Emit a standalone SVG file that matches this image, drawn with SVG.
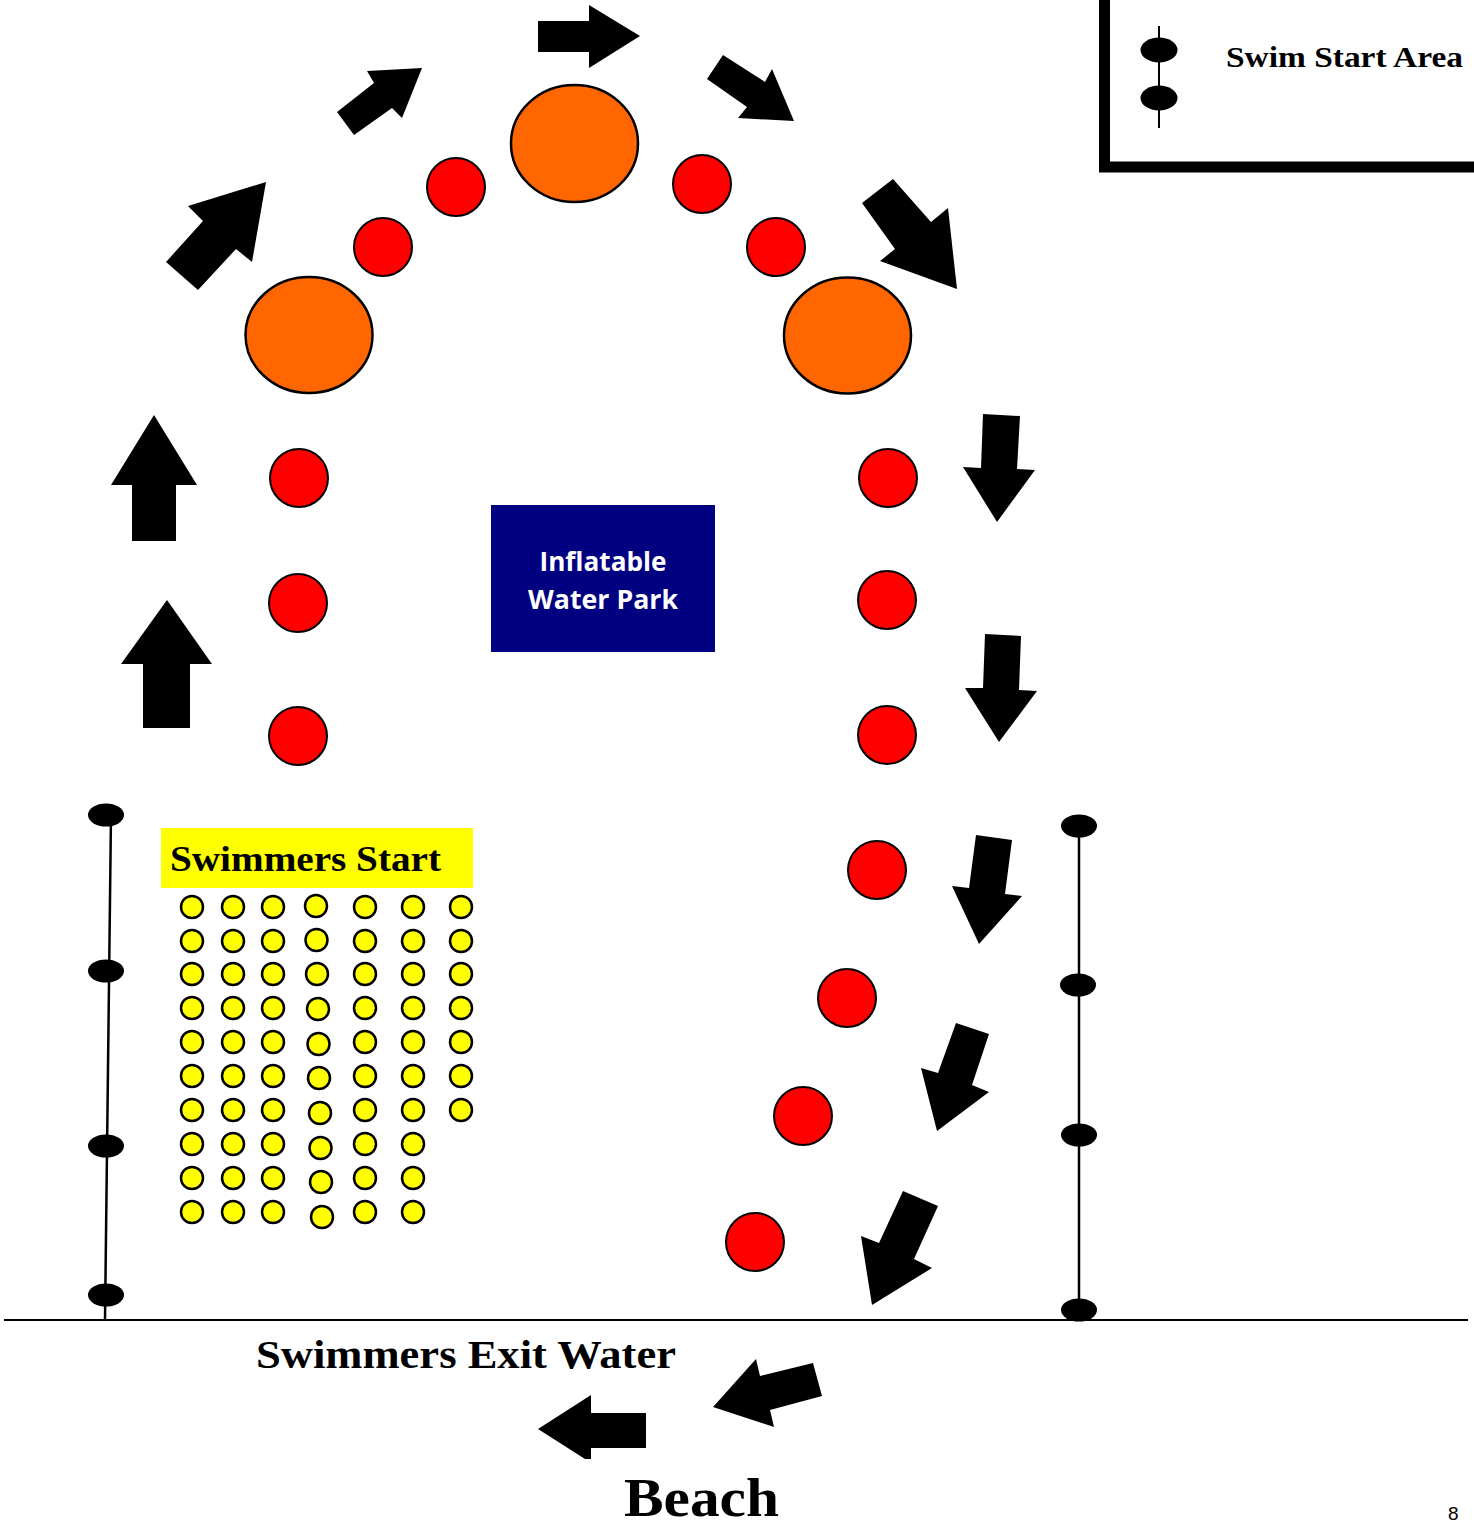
<svg xmlns="http://www.w3.org/2000/svg" width="1474" height="1527" viewBox="0 0 1474 1527">
<style>
.arrow{fill:#000}
.buoy{fill:#ff0000;stroke:#000;stroke-width:2}
.big{fill:#ff6600;stroke:#000;stroke-width:2.5}
.sw{fill:#ffff00;stroke:#000;stroke-width:2.5}
.rope{stroke:#000;stroke-width:2.5;fill:none}
.float{fill:#000}
.serif{font-family:"Liberation Serif","DejaVu Serif",serif;font-weight:bold;fill:#000}
</style>
<rect width="1474" height="1527" fill="#fff"/>

<g id="legend">
<path d="M1104.5,0 V167 H1474" fill="none" stroke="#000" stroke-width="11"/>
<line x1="1159" y1="26" x2="1159" y2="128" stroke="#000" stroke-width="2"/>
<ellipse cx="1159" cy="50" rx="18.5" ry="12.5" class="float"/>
<ellipse cx="1159" cy="98" rx="18.5" ry="12.5" class="float"/>
<text x="1226" y="67" class="serif" font-size="30" textLength="237" lengthAdjust="spacingAndGlyphs">Swim Start Area</text>
</g>

<g id="water-park">
<rect x="491" y="505" width="224" height="147" fill="#000080"/>
<text x="603" y="571" text-anchor="middle" font-family="'Open Sans','Liberation Sans',sans-serif" font-weight="bold" font-size="27" fill="#fff" textLength="127" lengthAdjust="spacingAndGlyphs">Inflatable</text>
<text x="603" y="609" text-anchor="middle" font-family="'Open Sans','Liberation Sans',sans-serif" font-weight="bold" font-size="27" fill="#fff" textLength="150" lengthAdjust="spacingAndGlyphs">Water Park</text>
</g>

<g id="turn-buoys">
<ellipse cx="574.5" cy="143.5" rx="63.5" ry="58.5" class="big"/>
<ellipse cx="309" cy="335" rx="63.5" ry="58" class="big"/>
<ellipse cx="847.5" cy="335.5" rx="63.5" ry="58" class="big"/>
</g>

<g id="course-buoys">
<circle cx="456" cy="187" r="29" class="buoy"/>
<circle cx="383" cy="247" r="29" class="buoy"/>
<circle cx="702" cy="184" r="29" class="buoy"/>
<circle cx="776" cy="247" r="29" class="buoy"/>
<circle cx="299" cy="478" r="29" class="buoy"/>
<circle cx="298" cy="603" r="29" class="buoy"/>
<circle cx="298" cy="736" r="29" class="buoy"/>
<circle cx="888" cy="478" r="29" class="buoy"/>
<circle cx="887" cy="600" r="29" class="buoy"/>
<circle cx="887" cy="735" r="29" class="buoy"/>
<circle cx="877" cy="870" r="29" class="buoy"/>
<circle cx="847" cy="998" r="29" class="buoy"/>
<circle cx="803" cy="1116" r="29" class="buoy"/>
<circle cx="755" cy="1242" r="29" class="buoy"/>
</g>

<g id="connectors">
<polygon class="arrow" points="154,415 197,485 176,485 176,541 132,541 132,485 111,485"/>
<polygon class="arrow" points="167,600 212,664 190,664 190,728 143,728 143,664 121,664"/>
<polygon class="arrow" points="266,182 252,262 236,249 198,290 166,262 203,221 188,206"/>
<polygon class="arrow" points="422,68 402,118 392,108 354,135 337,112 374,83 367,71"/>
<polygon class="arrow" points="538,21 589,21 589,5 640,36 589,68 589,52 538,52"/>
<polygon class="arrow" points="723,55 765,82 772,69 794,121 738,118 747,107 707,79"/>
<polygon class="arrow" points="893,179 931,222 948,208 957,289 880,261 895,249 862,203"/>
<polygon class="arrow" points="983,414 1020,416 1017,469 1035,470 997,522 963,467 981,468"/>
<polygon class="arrow" points="985,634 1021,636 1019,690 1037,691 999,742 965,688 983,688"/>
<polygon class="arrow" points="976,835 1012,840 1005,894 1022,896 979,944 952,886 969,888"/>
<polygon class="arrow" points="956,1023 989,1034 972,1085 989,1092 937,1131 921,1068 938,1073"/>
<polygon class="arrow" points="903,1191 938,1206 914,1259 932,1268 872,1305 861,1236 879,1243"/>
<polygon class="arrow" points="713,1407 756,1359 760,1376 813,1363 822,1396 770,1410 774,1427"/>
<polygon class="arrow" points="538,1429 591,1395 591,1413 646,1413 646,1448 591,1448 591,1459 585,1459"/>
</g>

<g id="start-rope-left">
<line x1="111" y1="815" x2="105" y2="1320" class="rope"/>
<ellipse cx="106" cy="815" rx="18" ry="11.5" class="float"/>
<ellipse cx="106" cy="971" rx="18" ry="11.5" class="float"/>
<ellipse cx="106" cy="1146" rx="18" ry="11.5" class="float"/>
<ellipse cx="106" cy="1295" rx="18" ry="11.5" class="float"/>
</g>

<g id="start-rope-right">
<line x1="1079" y1="826" x2="1079" y2="1310" class="rope"/>
<ellipse cx="1079" cy="826" rx="18" ry="11.5" class="float"/>
<ellipse cx="1078" cy="985" rx="18" ry="11.5" class="float"/>
<ellipse cx="1079" cy="1135" rx="18" ry="11.5" class="float"/>
<ellipse cx="1079" cy="1310" rx="18" ry="11.5" class="float"/>
</g>

<g id="swimmers-start">
<rect x="161" y="828" width="312" height="60" fill="#ffff00"/>
<text x="170" y="871" class="serif" font-size="35" textLength="271" lengthAdjust="spacingAndGlyphs">Swimmers Start</text>
</g>

<g id="swimmers">
<g>
<circle cx="192" cy="907" r="11" class="sw"/><circle cx="192" cy="941" r="11" class="sw"/><circle cx="192" cy="974" r="11" class="sw"/><circle cx="192" cy="1008" r="11" class="sw"/><circle cx="192" cy="1042" r="11" class="sw"/><circle cx="192" cy="1076" r="11" class="sw"/><circle cx="192" cy="1110" r="11" class="sw"/><circle cx="192" cy="1144" r="11" class="sw"/><circle cx="192" cy="1178" r="11" class="sw"/><circle cx="192" cy="1212" r="11" class="sw"/>
</g>
<g>
<circle cx="233" cy="907" r="11" class="sw"/><circle cx="233" cy="941" r="11" class="sw"/><circle cx="233" cy="974" r="11" class="sw"/><circle cx="233" cy="1008" r="11" class="sw"/><circle cx="233" cy="1042" r="11" class="sw"/><circle cx="233" cy="1076" r="11" class="sw"/><circle cx="233" cy="1110" r="11" class="sw"/><circle cx="233" cy="1144" r="11" class="sw"/><circle cx="233" cy="1178" r="11" class="sw"/><circle cx="233" cy="1212" r="11" class="sw"/>
</g>
<g>
<circle cx="273" cy="907" r="11" class="sw"/><circle cx="273" cy="941" r="11" class="sw"/><circle cx="273" cy="974" r="11" class="sw"/><circle cx="273" cy="1008" r="11" class="sw"/><circle cx="273" cy="1042" r="11" class="sw"/><circle cx="273" cy="1076" r="11" class="sw"/><circle cx="273" cy="1110" r="11" class="sw"/><circle cx="273" cy="1144" r="11" class="sw"/><circle cx="273" cy="1178" r="11" class="sw"/><circle cx="273" cy="1212" r="11" class="sw"/>
</g>
<g>
<circle cx="316" cy="906" r="11" class="sw"/><circle cx="316.5" cy="940" r="11" class="sw"/><circle cx="317" cy="974" r="11" class="sw"/><circle cx="318" cy="1009" r="11" class="sw"/><circle cx="318.5" cy="1044" r="11" class="sw"/><circle cx="319" cy="1078" r="11" class="sw"/><circle cx="320" cy="1113" r="11" class="sw"/><circle cx="320.5" cy="1148" r="11" class="sw"/><circle cx="321" cy="1182" r="11" class="sw"/><circle cx="322" cy="1217" r="11" class="sw"/>
</g>
<g>
<circle cx="365" cy="907" r="11" class="sw"/><circle cx="365" cy="941" r="11" class="sw"/><circle cx="365" cy="974" r="11" class="sw"/><circle cx="365" cy="1008" r="11" class="sw"/><circle cx="365" cy="1042" r="11" class="sw"/><circle cx="365" cy="1076" r="11" class="sw"/><circle cx="365" cy="1110" r="11" class="sw"/><circle cx="365" cy="1144" r="11" class="sw"/><circle cx="365" cy="1178" r="11" class="sw"/><circle cx="365" cy="1212" r="11" class="sw"/>
</g>
<g>
<circle cx="413" cy="907" r="11" class="sw"/><circle cx="413" cy="941" r="11" class="sw"/><circle cx="413" cy="974" r="11" class="sw"/><circle cx="413" cy="1008" r="11" class="sw"/><circle cx="413" cy="1042" r="11" class="sw"/><circle cx="413" cy="1076" r="11" class="sw"/><circle cx="413" cy="1110" r="11" class="sw"/><circle cx="413" cy="1144" r="11" class="sw"/><circle cx="413" cy="1178" r="11" class="sw"/><circle cx="413" cy="1212" r="11" class="sw"/>
</g>
<g>
<circle cx="461" cy="907" r="11" class="sw"/><circle cx="461" cy="941" r="11" class="sw"/><circle cx="461" cy="974" r="11" class="sw"/><circle cx="461" cy="1008" r="11" class="sw"/><circle cx="461" cy="1042" r="11" class="sw"/><circle cx="461" cy="1076" r="11" class="sw"/><circle cx="461" cy="1110" r="11" class="sw"/>
</g>
</g>

<g id="shoreline">
<line x1="4" y1="1320" x2="1468" y2="1320" stroke="#000" stroke-width="2"/>
<text x="256" y="1368" class="serif" font-size="40" textLength="420" lengthAdjust="spacingAndGlyphs">Swimmers Exit Water</text>
<text x="624" y="1516" class="serif" font-size="54" textLength="155" lengthAdjust="spacingAndGlyphs">Beach</text>
<text x="1448" y="1520" font-family="'Liberation Sans',Arial,sans-serif" font-size="19" fill="#000">8</text>
</g>
</svg>
